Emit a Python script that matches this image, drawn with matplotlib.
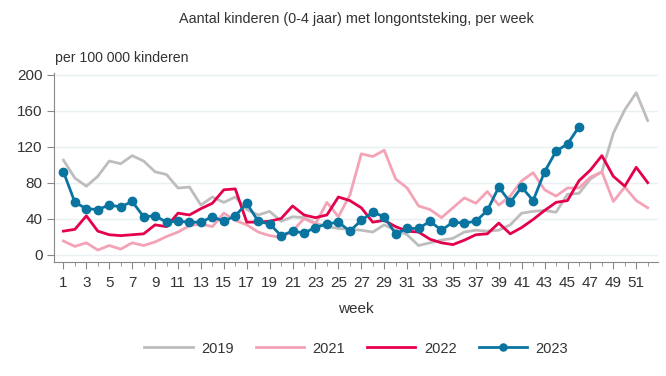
"""
Aantal kinderen (0-4 jaar) met longontsteking, per week
"""
import matplotlib
matplotlib.use("Agg")
from matplotlib import pyplot as plt

plt.rcParams['font.family'] = ['Liberation Sans', 'DejaVu Sans']

weeks = list(range(1, 53))

y2019 = [105, 85, 76, 87, 104, 101, 110, 104, 92, 89, 74, 75, 55, 64, 58, 64,
         50, 44, 48, 37, 42, 41, 35, 31, 29, 28, 27, 25, 33, 27, 22, 10,
         13, 16, 18, 25, 27, 26, 27, 33, 46, 48, 49, 47, 67, 68, 84, 92,
         135, 161, 180, 149]
y2021 = [15, 9, 13, 5, 10, 6, 13, 10, 14, 20, 25, 32, 34, 31, 46, 38,
         33, 25, 21, 19, 26, 40, 34, 58, 42, 66, 112, 109, 116, 84, 74, 54,
         50, 41, 52, 63, 57, 70, 55, 65, 82, 91, 72, 65, 74, 74, 86, 92,
         59, 75, 60, 52]
y2022 = [26, 28, 43, 26, 22, 21, 22, 23, 33, 31, 46, 44, 51, 57, 72, 73,
         36, 36, 37, 40, 54, 44, 41, 44, 64, 60, 52, 36, 38, 31, 26, 25,
         17, 13, 11, 16, 22, 23, 35, 23, 30, 39, 49, 58, 60, 82, 94, 110,
         87, 76, 97, 80]
y2023 = [92, 58, 51, 50, 55, 53, 59, 42, 43, 36, 37, 36, 36, 42, 37, 43,
         57, 37, 34, 21, 26, 24, 30, 34, 36, 26, 38, 47, 42, 23, 29, 29,
         37, 27, 36, 35, 37, 49, 75, 58, 75, 60, 92, 115, 123, 142]

yticks = [0, 40, 80, 120, 160, 200]
xticklabels = list(range(1, 53, 2))

fig = plt.figure(figsize=(6.66, 3.76), dpi=100)
ax = fig.add_axes([0.0815, 0.304, 0.9065, 0.502])

ax.plot(weeks, y2019, color='#bdbdbd', linewidth=2, label='2019')
ax.plot(weeks, y2021, color='#f4a3b6', linewidth=2, label='2021')
ax.plot(weeks, y2022, color='#e5004b', linewidth=2, label='2022')
ax.plot(weeks[:len(y2023)], y2023, color='#0a74a0', linewidth=2,
        marker='o', markersize=6, label='2023')

ax.set_xlim(0.2, 52.9)
ax.set_ylim(-8, 202)
ax.set_yticks(yticks)
ax.set_xticks(xticklabels)
ax.set_xticks(weeks, minor=True)
ax.grid(axis='y', color='#e8f0f3', linewidth=1)
ax.set_axisbelow(True)

for side in ['top', 'right']:
    ax.spines[side].set_visible(False)
for side in ['left', 'bottom']:
    ax.spines[side].set_color('#888888')

ax.tick_params(axis='both', which='both', colors='#888888', labelcolor='#333333',
               labelsize=11, length=5)
ax.tick_params(axis='x', which='major', pad=5)
ax.tick_params(axis='x', which='minor', length=3)

ax.set_xlabel('week', fontsize=11, color='#333333', labelpad=9)
fig.text(0.5345, 0.95, 'Aantal kinderen (0-4 jaar) met longontsteking, per week',
         ha='center', va='center', fontsize=10.4, color='#333333')
fig.text(0.083, 0.845, 'per 100 000 kinderen', ha='left', va='center',
         fontsize=10.2, color='#333333')

fig.legend(loc='center', bbox_to_anchor=(0.535, 0.073), ncol=4, frameon=False,
           fontsize=10.5, handlelength=3.3, handletextpad=0.6, columnspacing=1.5,
           labelcolor='#333333', markerscale=0.85)

fig.savefig('out.png', dpi=100)
